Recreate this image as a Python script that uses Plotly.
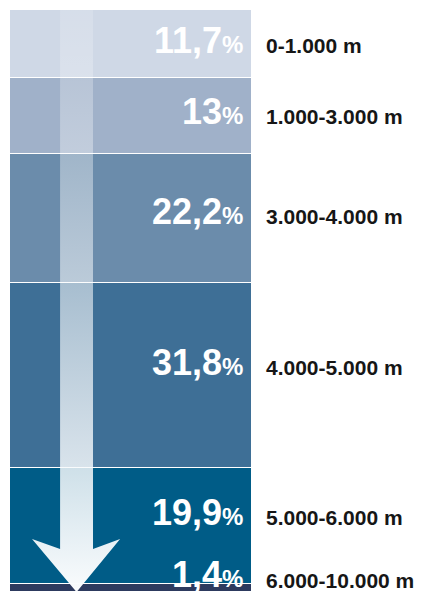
import plotly.graph_objects as go

# ---- data ----
depth_ranges = ["0-1.000 m", "1.000-3.000 m", "3.000-4.000 m",
                "4.000-5.000 m", "5.000-6.000 m", "6.000-10.000 m"]
shares = [11.7, 13.0, 22.2, 31.8, 19.9, 1.4]
share_labels = ["11,7", "13", "22,2", "31,8", "19,9", "1,4"]

# ---- style ----
colors = ["#cfd8e6", "#a0b1c9", "#6b8cab", "#3e6f96", "#005c87", "#2d3a5e"]
num_shift = [4, 4, 6.5, 13, 13, 13]      # px upward shift of percentage texts
lab_shift = [-1.5, -0.5, 2, 8.5, 8.5, 7.5]  # px upward shift of range labels
FONT = "Liberation Sans, Arial, sans-serif"

fig = go.Figure()

for rng, val, col in zip(depth_ranges, shares, colors):
    fig.add_trace(go.Bar(
        x=[0], y=[val], width=1, name=rng,
        marker=dict(color=col, line=dict(color="white", width=1.5)),
        hoverinfo="skip", showlegend=False,
    ))

# decorative arrow (shaft + head) with vertical white gradient
shaft_l, shaft_r = -0.293, -0.157
head_l, head_r, tip_x = -0.409, -0.045, -0.225
head_top, shoulder, tip_y = 90.9, 92.6, 100.0
ax = [shaft_l, shaft_r, shaft_r, head_r, tip_x, head_l, shaft_l, shaft_l]
ay = [0, 0, shoulder, head_top, tip_y, head_top, shoulder, 0]
fig.add_trace(go.Scatter(
    x=ax, y=ay, mode="lines", fill="toself",
    line=dict(width=0, color="rgba(0,0,0,0)"),
    fillgradient=dict(type="vertical", start=0, stop=100,
                      colorscale=[[0, "rgba(255,255,255,0.15)"],
                                  [0.9, "rgba(247,250,252,0.93)"],
                                  [1, "rgba(250,252,253,1)"]]),
    hoverinfo="skip", showlegend=False,
))

annotations = []
cum = 0.0
for i, (rng, val, lab) in enumerate(zip(depth_ranges, shares, share_labels)):
    center = cum + val / 2
    cum += val
    annotations.append(dict(
        x=0.5, y=center, xref="x", yref="y", xanchor="right", yanchor="middle",
        xshift=-7, yshift=num_shift[i], showarrow=False,
        text=f"<b>{lab}</b><span style='font-size:24px'><b>%</b></span>",
        font=dict(family=FONT, size=36, color="white"),
    ))
    annotations.append(dict(
        x=0.5, y=center, xref="x", yref="y", xanchor="left", yanchor="middle",
        xshift=12, yshift=lab_shift[i], showarrow=False,
        text=f"<b>{rng}</b>",
        font=dict(family=FONT, size=21, color="#161616"),
    ))

fig.update_layout(
    width=421, height=592, autosize=False,
    margin=dict(l=10, r=169, t=10, b=0),
    barmode="stack", bargap=0,
    paper_bgcolor="white", plot_bgcolor="white",
    xaxis=dict(range=[-0.5, 0.5], visible=False, fixedrange=True),
    yaxis=dict(range=[100, 0], visible=False, fixedrange=True),
    annotations=annotations,
)

fig.write_html("out.html")
